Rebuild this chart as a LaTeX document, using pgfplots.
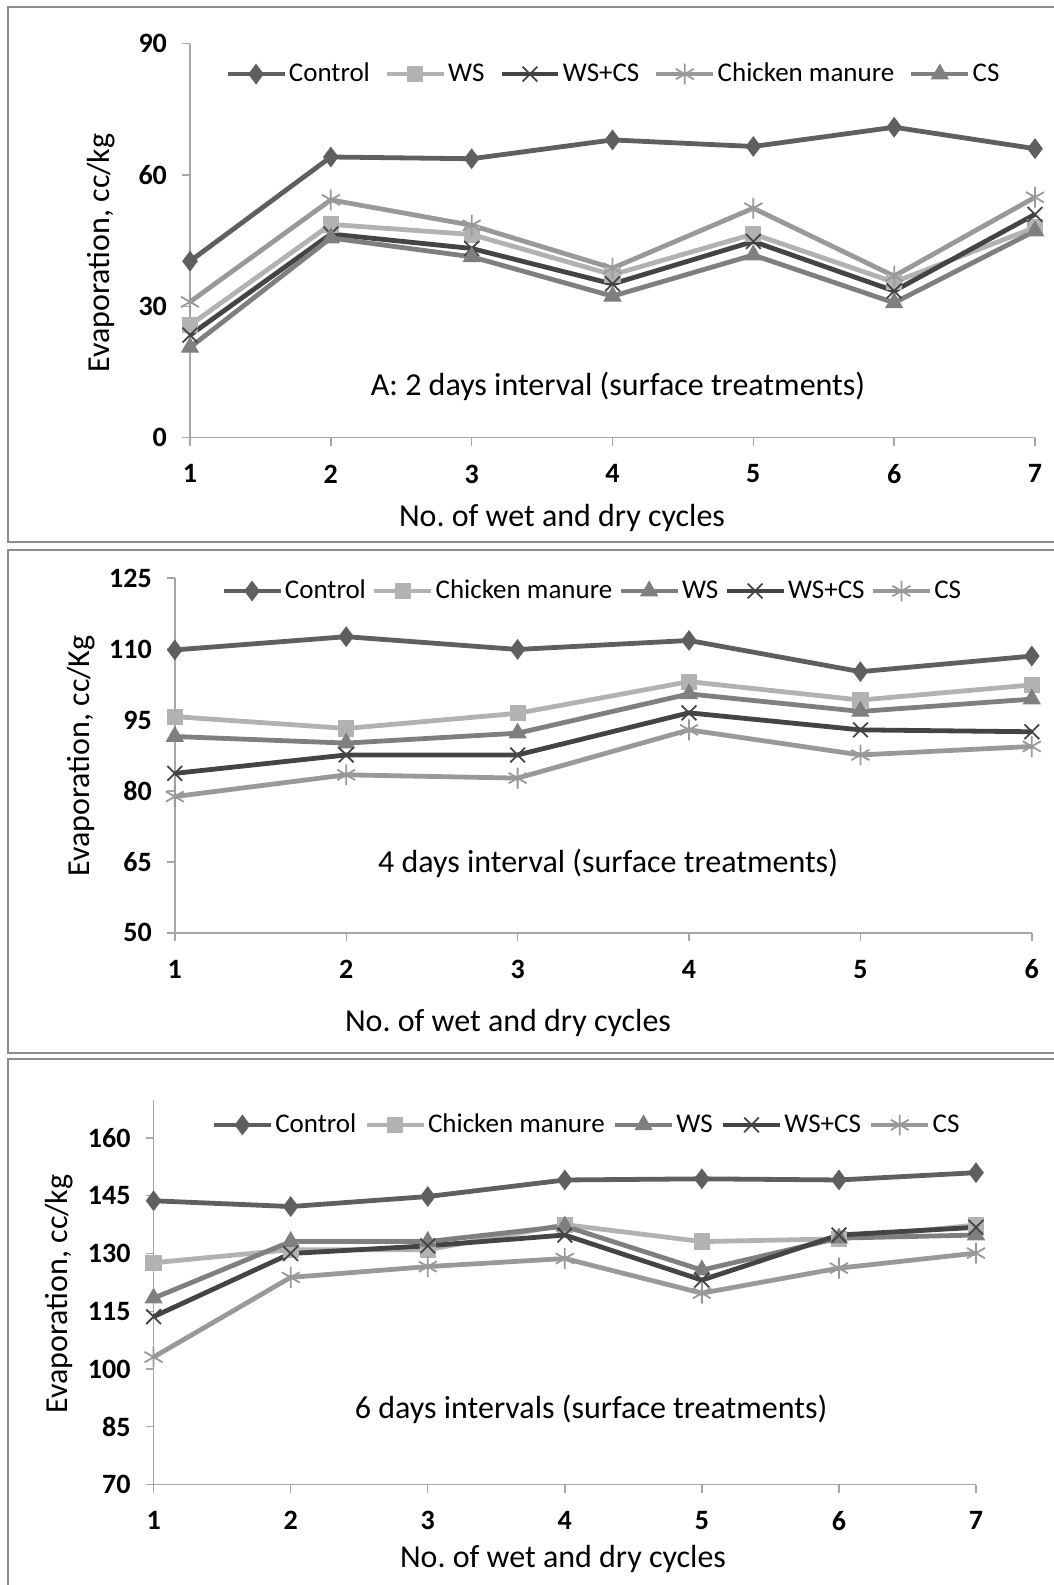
\documentclass[border=0pt]{standalone}
\usepackage{pgfplots}
\pgfplotsset{compat=1.18}
\usepackage{fontspec}
\setmainfont{Carlito}
\frenchspacing
\definecolor{cctrl}{HTML}{5F5F5F}
\definecolor{csq}{HTML}{B2B2B2}
\definecolor{cx}{HTML}{444444}
\definecolor{cast}{HTML}{999999}
\definecolor{ctri}{HTML}{7F7F7F}
\definecolor{framec}{HTML}{8C8C8C}
\definecolor{axisc}{HTML}{A6A6A6}
\pgfplotsset{
  panel/.style={
    scale only axis, clip=false,
    axis lines*=left,
    axis line style={axisc, line width=0.7pt},
    tick style={axisc, line width=0.7pt},
    tick align=outside, major tick length=4pt,
    ticklabel style={font=\fontsize{14}{16}\selectfont\bfseries, text=black},
    /pgf/number format/assume math mode=true,
    yticklabel style={xshift=-4pt},
    xticklabel style={yshift=-6pt},
    legend columns=5,
    legend cell align=left,
    legend style={draw=none, fill=none, font=\fontsize{13.5}{15}\selectfont,
      anchor=center, nodes={inner xsep=1pt, inner ysep=1pt}},
    legend image code/.code={\draw[mark repeat=2,mark phase=2] plot coordinates {(0cm,0cm)(0.5cm,0cm)(1.0cm,0cm)};},
  },
  sctrl/.style={color=cctrl, line width=2.4pt, mark=diamond*, mark size=4.8pt, mark options={solid, fill=cctrl, line width=0.5pt}},
  ssq/.style={color=csq, line width=2.4pt, mark=square*, mark size=3.8pt, mark options={solid, fill=csq, line width=0.5pt}},
  sx/.style={color=cx, line width=2.4pt, mark=x, mark size=5.2pt, mark options={solid, line width=0.9pt}},
  sast/.style={color=cast, line width=2.4pt, mark=asterisk, mark size=5.2pt, mark options={solid, line width=0.9pt}},
  stri/.style={color=ctri, line width=2.4pt, mark=triangle*, mark size=4.8pt, mark options={solid, fill=ctri, line width=0.5pt}},
}
\newcommand{\lab}{\fontsize{16}{18}\selectfont}
\begin{document}
\begin{tikzpicture}
\useasboundingbox (0,0) rectangle (527pt,-792.5pt);
\draw[framec, line width=1.3pt] (4pt,-3.5pt) rectangle (545pt,-271pt);
\draw[framec, line width=1.3pt] (4pt,-275pt) rectangle (545pt,-526.4pt);
\draw[framec, line width=1.3pt] (4pt,-529.5pt) rectangle (545pt,-810pt);

% Panel A
\begin{axis}[panel, at={(95pt,-218.8pt)}, anchor=south west,
  width=422.5pt, height=197pt,
  xmin=1, xmax=7, ymin=0, ymax=90,
  xtick={1,...,7}, ytick={0,30,60,90},
  legend style={at={(0.501,0.9226)}, /tikz/every even column/.append style={column sep=6.3pt}}]
\addplot[sctrl] coordinates {(1,40.3)(2,64.1)(3,63.7)(4,68.0)(5,66.5)(6,70.9)(7,66.0)};
\addlegendentry{Control}
\addplot[ssq] coordinates {(1,25.7)(2,48.7)(3,46.4)(4,37.2)(5,46.5)(6,35.5)(7,48.0)};
\addlegendentry{WS}
\addplot[sx] coordinates {(1,23.4)(2,46.5)(3,43.2)(4,35.1)(5,44.8)(6,33.5)(7,51.0)};
\addlegendentry{WS+CS}
\addplot[sast] coordinates {(1,31.0)(2,54.3)(3,48.5)(4,38.7)(5,52.4)(6,36.9)(7,54.9)};
\addlegendentry{Chicken manure}
\addplot[stri] coordinates {(1,20.6)(2,45.6)(3,41.3)(4,32.3)(5,41.7)(6,30.8)(7,47.2)};
\addlegendentry{CS}
\node[font=\lab] at (axis description cs:0.5065,0.131) {A: 2 days interval (surface treatments)};
\end{axis}
\node[font=\lab] at (281pt,-259pt) {No. of wet and dry cycles};
\node[font=\lab, rotate=90] at (50.5pt,-126.5pt) {Evaporation, cc/kg};

% Panel B
\begin{axis}[panel, at={(87.4pt,-466.4pt)}, anchor=south west,
  width=428.5pt, height=177.4pt,
  xmin=1, xmax=6, ymin=50, ymax=125,
  xtick={1,...,6}, ytick={50,65,...,125},
  legend style={at={(0.487,0.9634)}, /tikz/every even column/.append style={column sep=2pt}}]
\addplot[sctrl] coordinates {(1,109.8)(2,112.6)(3,109.9)(4,111.8)(5,105.2)(6,108.5)};
\addlegendentry{Control}
\addplot[ssq] coordinates {(1,95.7)(2,93.2)(3,96.4)(4,103.1)(5,99.2)(6,102.4)};
\addlegendentry{Chicken manure}
\addplot[stri] coordinates {(1,91.5)(2,90.1)(3,92.2)(4,100.5)(5,96.8)(6,99.4)};
\addlegendentry{WS}
\addplot[sx] coordinates {(1,83.7)(2,87.6)(3,87.6)(4,96.5)(5,92.9)(6,92.5)};
\addlegendentry{WS+CS}
\addplot[sast] coordinates {(1,78.8)(2,83.4)(3,82.7)(4,92.9)(5,87.6)(6,89.4)};
\addlegendentry{CS}
\node[font=\lab] at (axis description cs:0.5055,0.197) {4 days interval (surface treatments)};
\end{axis}
\node[font=\lab] at (254pt,-511.5pt) {No. of wet and dry cycles};
\node[font=\lab, rotate=90] at (40.5pt,-378pt) {Evaporation, cc/Kg};

% Panel C
\begin{axis}[panel, at={(76.8pt,-742.25pt)}, anchor=south west,
  width=411.2pt, height=192.5pt,
  xmin=1, xmax=7, ymin=70, ymax=170,
  xtick={1,...,7}, ytick={70,85,...,160},
  legend style={at={(0.5264,0.934)}, /tikz/every even column/.append style={column sep=3pt}}]
\addplot[sctrl] coordinates {(1,143.7)(2,142.2)(3,144.8)(4,149.1)(5,149.4)(6,149.1)(7,151.0)};
\addlegendentry{Control}
\addplot[ssq] coordinates {(1,127.6)(2,131.0)(3,131.0)(4,137.5)(5,133.1)(6,133.8)(7,137.4)};
\addlegendentry{Chicken manure}
\addplot[stri] coordinates {(1,118.4)(2,133.1)(3,133.1)(4,137.1)(5,125.7)(6,134.0)(7,134.8)};
\addlegendentry{WS}
\addplot[sx] coordinates {(1,113.6)(2,130.0)(3,132.0)(4,134.8)(5,123.1)(6,134.8)(7,136.8)};
\addlegendentry{WS+CS}
\addplot[sast] coordinates {(1,103.1)(2,123.8)(3,126.6)(4,128.7)(5,119.7)(6,126.2)(7,130.1)};
\addlegendentry{CS}
\node[font=\lab] at (axis description cs:0.532,0.196) {6 days intervals (surface treatments)};
\end{axis}
\node[font=\lab] at (281.5pt,-779.5pt) {No. of wet and dry cycles};
\node[font=\lab, rotate=90] at (29.5pt,-647pt) {Evaporation, cc/kg};
\end{tikzpicture}
\end{document}
